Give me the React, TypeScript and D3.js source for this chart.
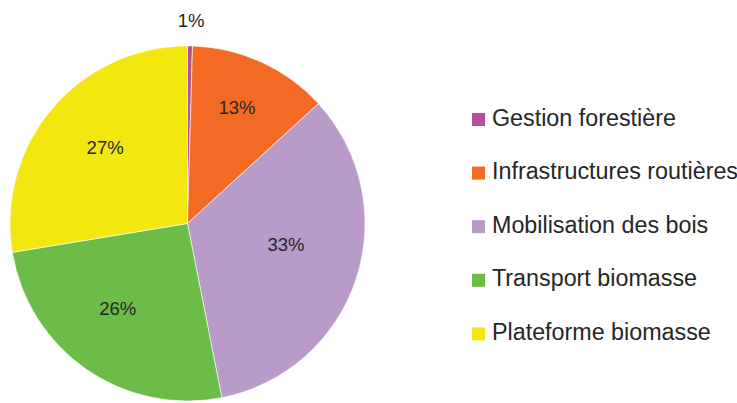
import React from "react";
import * as d3 from "d3";

// shares of each item
const categories = [
  "Gestion forestière",
  "Infrastructures routières",
  "Mobilisation des bois",
  "Transport biomasse",
  "Plateforme biomasse",
];
const shares = [0.45, 12.75, 33.7, 25.5, 27.6];
const shareLabels = ["1%", "13%", "33%", "26%", "27%"];
const colors = ["#b4509f", "#f26a24", "#b89bc9", "#6cbd47", "#f2e80f"];

const W = 737;
const H = 403;
const cx = 187.5;
const cy = 223.5;
const R = 177.5;
const labelR = 112;
// small nudges so labels sit where the source placed them
const nudge = [
  [2, -91],
  [3, -14],
  [-8, -14],
  [-6, -7],
  [3, -4],
];

const App = () => {
  const data = categories.map((c, i) => ({ name: c, value: shares[i], label: shareLabels[i], color: colors[i] }));
  const pie = d3.pie<any>().sort(null).value((d) => d.value).startAngle(0).endAngle(2 * Math.PI);
  const arcs = pie(data);
  const arc = d3.arc<any>().innerRadius(0).outerRadius(R);
  const labelArc = d3.arc<any>().innerRadius(labelR).outerRadius(labelR);

  const legendX = 472;
  const legendY = 113;
  const legendStep = 53.6;

  return (
    <svg
      width={W}
      height={H}
      viewBox={`0 0 ${W} ${H}`}
      style={{ position: "absolute", left: 0, top: 0, background: "#fff" }}
      fontFamily="'Liberation Sans', Arial, sans-serif"
    >
      <g transform={`translate(${cx},${cy})`}>
        {arcs.map((a, i) => (
          <path key={i} d={arc(a) as string} fill={a.data.color} stroke="#fff" strokeWidth={0.6} />
        ))}
        {arcs.map((a, i) => {
          const [x, y] = labelArc.centroid(a);
          return (
            <text
              key={"l" + i}
              x={x + nudge[i][0]}
              y={y + nudge[i][1]}
              textAnchor="middle"
              dominantBaseline="central"
              fontSize={18.5}
              fill="#262626"
            >
              {a.data.label}
            </text>
          );
        })}
      </g>
      <g>
        {data.map((d, i) => (
          <g key={"g" + i} transform={`translate(${legendX},${legendY + i * legendStep})`}>
            <rect x={0} y={0} width={13} height={13} fill={d.color} />
            <text x={20} y={12.5} fontSize={23.3} fill="#262626">
              {d.name}
            </text>
          </g>
        ))}
      </g>
    </svg>
  );
};

export default App;
